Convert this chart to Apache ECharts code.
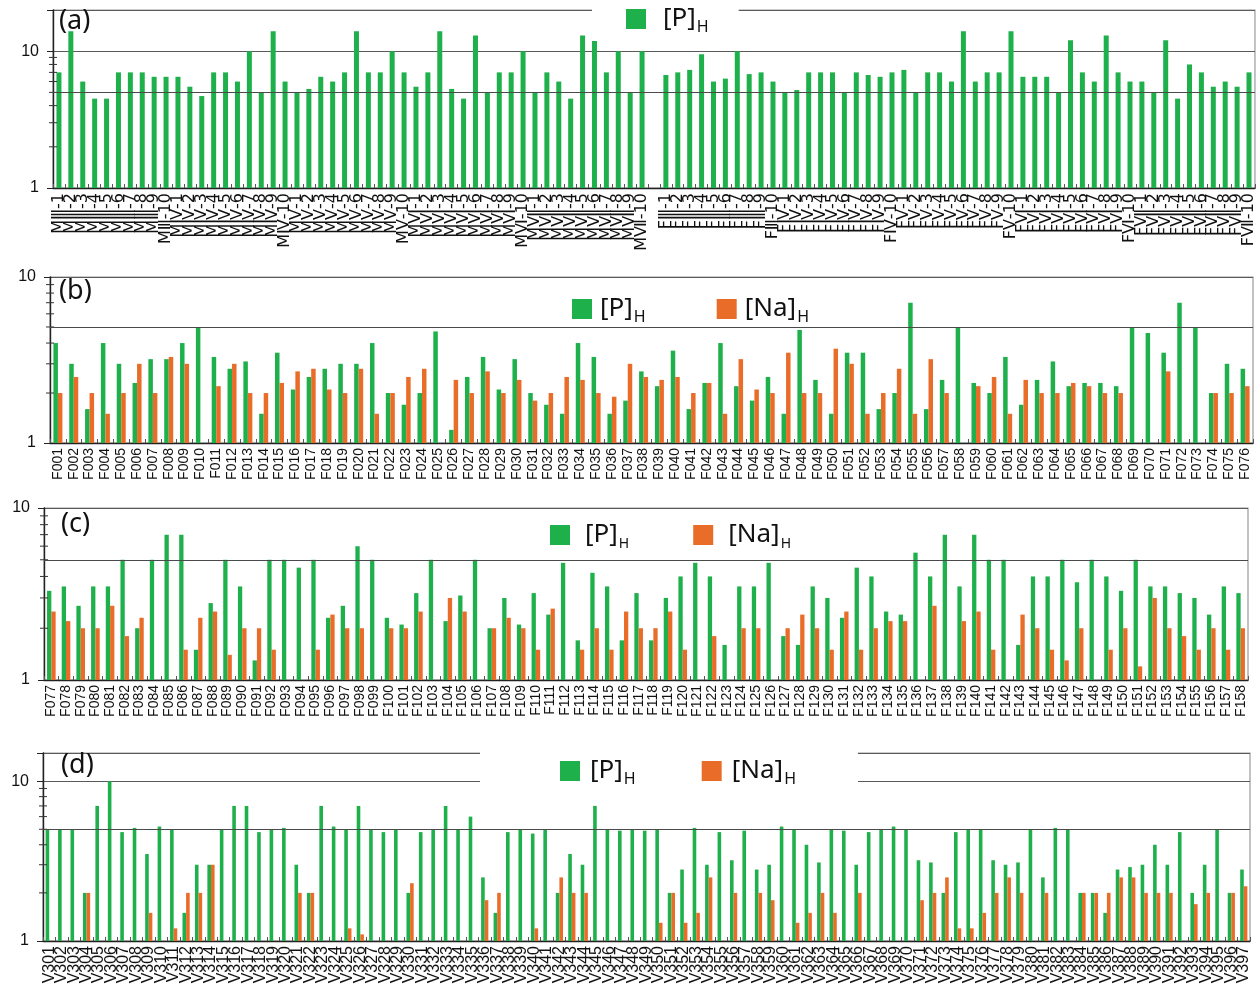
<!DOCTYPE html>
<html>
<head>
<meta charset="utf-8">
<script src="https://cdn.jsdelivr.net/npm/echarts@6/dist/echarts.min.js"></script>
<style>
  html, body { margin: 0; padding: 0; background: #ffffff; }
  #chart { width: 1257px; height: 990px; }
</style>
</head>
<body>
<div id="chart"></div>
<script>
// ---------- data ----------
// (a) group labels (roman numerals) and the [P]H levels, male then female groups
const romanGroups = ['Ⅲ', 'Ⅳ', 'Ⅴ', 'Ⅵ', 'Ⅶ'];
const pA_male = [
  7, 14, 6, 4.5, 4.5, 7, 7, 7, 6.5, 6.5,
  6.5, 5.5, 4.7, 7, 7, 6, 10, 5, 14, 6,
  5, 5.3, 6.5, 6, 7, 14, 7, 7, 10, 7,
  5.5, 7, 14, 5.3, 4.5, 13, 5, 7, 7, 10,
  5, 7, 6, 4.5, 13, 14, 7, 10, 5, 10
];
const pA_female = [
  6.7, 7, 7.3, 9.5, 6, 6.3, 10, 6.8, 7, 6,
  5, 5.2, 7, 7, 7, 5, 7, 6.7, 6.5, 7,
  7.3, 5, 7, 7, 6, 14, 6, 7, 7, 14,
  6.5, 6.5, 6.5, 5, 12, 7, 6, 13, 7, 6,
  6, 5, 12, 4.5, 8, 7, 5.5, 6, 5.5, 7
];

// (b) F001 - F076
const pB = [
  4, 3, 1.6, 4, 3, 2.3, 3.2, 3.2, 4, 5,
  3.3, 2.8, 3.1, 1.5, 3.5, 2.1, 2.5, 2.8, 3, 3,
  4, 2, 1.7, 2, 4.7, 1.2, 2.5, 3.3, 2.1, 3.2,
  2, 1.7, 1.5, 4, 3.3, 1.5, 1.8, 2.7, 2.2, 3.6,
  1.6, 2.3, 4, 2.2, 1.8, 2.5, 1.5, 4.8, 2.4, 1.5,
  3.5, 3.5, 1.6, 2, 7, 1.6, 2.4, 5, 2.3, 2,
  3.3, 1.7, 2.4, 3.1, 2.2, 2.3, 2.3, 2.2, 5, 4.6,
  3.5, 7, 5, 2, 3, 2.8
];
const naB = [
  2, 2.5, 2, 1.5, 2, 3, 2, 3.3, 3, null,
  2.2, 3, 2, 2, 2.3, 2.7, 2.8, 2.1, 2, 2.8,
  1.5, 2, 2.5, 2.8, null, 2.4, 2, 2.7, 2, 2.4,
  1.8, 2, 2.5, 2.4, 2, 1.9, 3, 2.5, 2.4, 2.5,
  2, 2.3, 1.5, 3.2, 2.1, 2, 3.5, 2, 2, 3.7,
  3, 1.5, 2, 2.8, 1.5, 3.2, 2, null, 2.2, 2.5,
  1.5, 2.4, 2, 2, 2.3, 2.2, 2, 2, null, null,
  2.7, null, null, 2, 2, 2.2
];

// (c) F077 - F158
const pC = [
  3.3, 3.5, 2.7, 3.5, 3.5, 5, 2, 5, 7, 7,
  1.5, 2.8, 5, 3.5, 1.3, 5, 5, 4.5, 5, 2.3,
  2.7, 6, 5, 2.3, 2.1, 3.2, 5, 2.2, 3.1, 5,
  2, 3, 2.1, 3.2, 2.4, 4.8, 1.7, 4.2, 3.5, 1.7,
  3.2, 1.7, 3, 4, 4.8, 4, 1.6, 3.5, 3.5, 4.8,
  1.8, 1.6, 3.5, 3, 2.3, 4.5, 4, 2.5, 2.4, 5.5,
  4, 7, 3.5, 7, 5, 5, 1.6, 4, 4, 5,
  3.7, 5, 4, 3.3, 5, 3.5, 3.5, 3.2, 3, 2.4,
  3.5, 3.2
];
const naC = [
  2.5, 2.2, 2, 2, 2.7, 1.8, 2.3, null, null, 1.5,
  2.3, 2.5, 1.4, 2, 2, 1.5, null, null, 1.5, 2.4,
  2, 2, null, 2, 2, 2.5, null, 3, 2.5, null,
  2, 2.3, 2, 1.5, 2.6, null, 1.5, 2, 1.5, 2.5,
  2, 2, 2.5, 1.5, null, 1.8, null, 2, 2, null,
  2, 2.4, 2, 1.5, 2.5, 1.5, 2, 2.2, 2.2, null,
  2.7, null, 2.2, 2.5, 1.5, null, 2.4, 2, 1.5, 1.3,
  2, null, 1.5, 2, 1.2, 3, 2, 1.8, 1.5, 2,
  1.5, 2
];

// (d) V301 - V397
const pD = [
  5, 5, 5, 2, 7, 10, 4.8, 5.1, 3.5, 5.2,
  5, 1.5, 3, 3, 5, 7, 7, 4.8, 5, 5.1,
  3, 2, 7, 5.2, 5, 7, 5, 4.8, 5, 2,
  4.8, 5, 7, 5, 6, 2.5, 1.5, 4.8, 5, 4.7,
  5, 2, 3.5, 3, 7, 5, 4.9, 5, 4.9, 5,
  2, 2.8, 5.1, 3, 4.8, 3.2, 4.9, 2.8, 3, 5.2,
  5, 4, 3.1, 5, 4.9, 3, 4.8, 5, 5.2, 5,
  3.2, 3.1, 2, 4.8, 5, 5, 3.2, 3, 3.1, 5,
  2.5, 5.1, 5, 2, 2, 1.5, 2.8, 2.9, 3, 4,
  3, 4.8, 2, 3, 5, 2, 2.8
];
const naD = [
  null, null, null, 2, null, null, null, null, 1.5, null,
  1.2, 2, 2, 3, null, null, null, null, null, null,
  2, 2, null, null, 1.2, 1.1, null, null, null, 2.3,
  null, null, null, null, null, 1.8, 2, null, null, 1.2,
  null, 2.5, 2, 2, null, null, null, null, null, 1.3,
  2, 1.3, 1.5, 2.5, null, 2, null, 2, 1.8, null,
  1.3, 1.5, 2, 1.5, null, 2, null, null, null, null,
  1.8, 2, 2.5, 1.2, 1.2, 1.5, 2, 2.5, 2, null,
  2, null, null, 2, 2, 2, 2.5, 2.5, 2, 2,
  2, null, 1.7, 2, null, 2, 2.2
];

// reference level drawn across every panel, and minor log ticks
const referenceLevel = 5;
const minorTickValues = [2, 3, 4, 5, 6, 7, 8, 9];

// ---------- category labels ----------
function groupLabels(prefix) {
  const out = [];
  romanGroups.forEach(r => { for (let i = 1; i <= 10; i++) out.push(prefix + r + '-' + i); });
  return out;
}
const catsA = groupLabels('M').concat([''], groupLabels('F'));
const dataA = pA_male.concat([null], pA_female);
function numbered(prefix, from, to, pad) {
  const out = [];
  for (let i = from; i <= to; i++) out.push(prefix + String(i).padStart(pad, '0'));
  return out;
}
const catsB = numbered('F', 1, 76, 3);
const catsC = numbered('F', 77, 158, 3);
const catsD = numbered('V', 301, 397, 3);

// ---------- styling ----------
const GREEN = '#1eb04b';
const ORANGE = '#e96d29';
const LABEL_FONT = '"Liberation Sans", Arial, "DejaVu Sans", sans-serif';
const ROMAN_FONT = '"DejaVu Sans", "Liberation Sans", sans-serif';
const TEXT_FONT = '"Noto Sans", "Open Sans", sans-serif';

const grids = [
  { left: 53, top: 10, width: 1203, height: 178 },
  { left: 50, top: 277, width: 1203, height: 166 },
  { left: 44, top: 508, width: 1204, height: 172 },
  { left: 43, top: 753, width: 1207, height: 188 }
].map(g => Object.assign(g, { show: true, borderColor: '#9a9a9a', borderWidth: 1.2, backgroundColor: 'transparent' }));

function xAxisFor(gi, cats, fontSize, family) {
  return {
    type: 'category', gridIndex: gi, data: cats, boundaryGap: true,
    axisLine: { lineStyle: { color: '#222', width: 1.4 } },
    axisTick: { show: true, inside: true, length: 4, interval: 0, alignWithLabel: false, lineStyle: { color: '#555' } },
    axisLabel: { interval: 0, rotate: 90, fontSize: fontSize, color: '#111', fontFamily: family, margin: 5 },
    splitLine: { show: false }
  };
}
function yAxisFor(gi, max) {
  return {
    type: 'log', logBase: 10, gridIndex: gi, min: 1, max: max,
    axisLine: { show: true, lineStyle: { color: '#222', width: 1.4 } },
    axisTick: { show: true, length: 6, lineStyle: { color: '#222' } },
    axisLabel: {
      fontSize: 16, color: '#111', margin: 14, fontFamily: LABEL_FONT,
      formatter: v => (Math.abs(v - 1) < 1e-6 ? '1' : (Math.abs(v - 10) < 1e-6 ? '10' : ''))
    },
    splitLine: { show: true, lineStyle: { color: '#5a5a5a', width: 1.2 } }
  };
}

const levelLine = {
  silent: true, symbol: 'none', animation: false,
  lineStyle: { color: '#4a4a4a', width: 1.2, type: 'solid' },
  label: { show: false },
  data: [{ yAxis: referenceLevel }]
};

function pSeries(gi, data, width) {
  return { type: 'bar', name: 'P', xAxisIndex: gi, yAxisIndex: gi, data: data, barWidth: width, barGap: '0%',
    itemStyle: { color: GREEN }, markLine: levelLine, z: 2 };
}
function naSeries(gi, data, width) {
  return { type: 'bar', name: 'Na', xAxisIndex: gi, yAxisIndex: gi, data: data, barWidth: width, barGap: '0%',
    itemStyle: { color: ORANGE }, z: 2 };
}
// short minor ticks on the log axis at 2..9, positioned through the axis scale
function minorTicks(gi) {
  return {
    type: 'custom', name: 'minor', xAxisIndex: gi, yAxisIndex: gi, silent: true, clip: false, z: 3,
    data: minorTickValues.map(v => [0, v]),
    renderItem: function (params, api) {
      const y = api.coord([api.value(0), api.value(1)])[1];
      const x0 = params.coordSys.x;
      return { type: 'line', shape: { x1: x0 - 4, y1: y, x2: x0 + 4, y2: y },
        style: { stroke: '#333', lineWidth: 1 } };
    }
  };
}

function legendFor(opts, textPad, subSize) {
  return Object.assign({
    orient: 'horizontal', icon: 'rect', itemWidth: 20, itemHeight: 20, selectedMode: false,
    formatter: name => (name === 'P' ? '{b|[P]}{s|H}' : '{b|[Na]}{s|H}'),
    textStyle: {
      rich: {
        b: { fontSize: 26, fontFamily: TEXT_FONT, color: '#111', lineHeight: 32, padding: [0, 0, 0, textPad] },
        s: { fontSize: subSize, fontFamily: TEXT_FONT, color: '#111', lineHeight: subSize, verticalAlign: 'bottom', padding: [12, 0, 0, 1] }
      }
    }
  }, opts);
}

function panelTitle(txt, left, top) {
  return { text: txt, left: left, top: top, padding: 0,
    textStyle: { fontSize: 27, fontWeight: 'normal', fontFamily: TEXT_FONT, color: '#111' } };
}

const option = {
  animation: false,
  backgroundColor: '#ffffff',
  title: [
    panelTitle('(a)', 59, 8),
    panelTitle('(b)', 59, 278),
    panelTitle('(c)', 61, 511),
    panelTitle('(d)', 61, 752)
  ],
  legend: [
    legendFor({ data: ['P'], left: 592, top: 0, padding: [6, 30, 6, 34], backgroundColor: '#ffffff' }, 12, 16),
    legendFor({ data: ['P', 'Na'], left: 572, top: 296, padding: 0, itemGap: 71 }, 3, 16),
    legendFor({ data: ['P', 'Na'], left: 550, top: 522, padding: 0, itemGap: 64 }, 10, 14),
    legendFor({ data: ['P', 'Na'], left: 480, top: 745, padding: [13, 62, 10, 80], itemGap: 66, backgroundColor: '#ffffff' }, 5, 16)
  ],
  grid: grids,
  xAxis: [
    xAxisFor(0, catsA, 16, ROMAN_FONT),
    xAxisFor(1, catsB, 14, LABEL_FONT),
    xAxisFor(2, catsC, 14, LABEL_FONT),
    xAxisFor(3, catsD, 16, LABEL_FONT)
  ],
  yAxis: [yAxisFor(0, 20), yAxisFor(1, 10), yAxisFor(2, 10), yAxisFor(3, 15)],
  series: [
    pSeries(0, dataA, 5),
    pSeries(1, pB, 4.5), naSeries(1, naB, 4.5),
    pSeries(2, pC, 4.3), naSeries(2, naC, 4.3),
    pSeries(3, pD, 3.6), naSeries(3, naD, 3.6),
    minorTicks(0), minorTicks(1), minorTicks(2), minorTicks(3)
  ]
};

const chart = echarts.init(document.getElementById('chart'), null, { renderer: 'canvas' });
chart.setOption(option);
</script>
</body>
</html>
